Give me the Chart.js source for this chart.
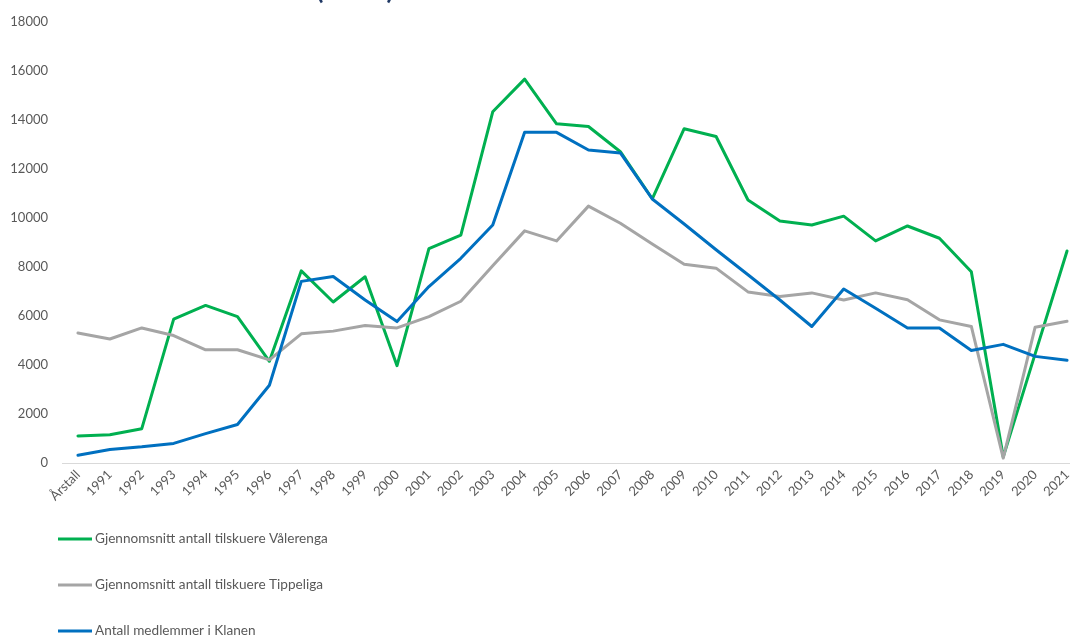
<!DOCTYPE html>
<html>
<head>
<meta charset="utf-8">
<script src="https://cdn.jsdelivr.net/npm/chart.js@4.4.0/dist/chart.umd.min.js"></script>
<style>
  html, body { margin: 0; padding: 0; background: #fff; overflow: hidden; }
  #wrap { width: 1070px; height: 636px; overflow: hidden; position: relative; }
  #box { width: 1090px; height: 636px; position: absolute; left: 0; top: 0; }
</style>
</head>
<body>
<div id="wrap"><div id="box"><canvas id="tilskuerChart"></canvas></div></div>
<script>
// x-axis labels
var years = ["Årstall", "1991", "1992", "1993", "1994", "1995", "1996", "1997", "1998", "1999", "2000",
  "2001", "2002", "2003", "2004", "2005", "2006", "2007", "2008", "2009", "2010",
  "2011", "2012", "2013", "2014", "2015", "2016", "2017", "2018", "2019", "2020", "2021"];

// snitt tilskuere Vålerenga
var valerenga = [1100, 1150, 1400, 5870, 6430, 5970, 4150, 7840, 6570, 7600, 3970,
  8750, 9300, 14330, 15660, 13840, 13730, 12700, 10780, 13640, 13320,
  10730, 9870, 9710, 10070, 9060, 9670, 9170, 7800, 250, 4450, 8650];

// snitt tilskuere Tippeliga
var tippeliga = [5300, 5060, 5510, 5200, 4620, 4620, 4210, 5270, 5380, 5610, 5510,
  5970, 6600, 8050, 9470, 9060, 10480, 9780, 8930, 8110, 7950,
  6980, 6790, 6940, 6650, 6940, 6660, 5840, 5570, 200, 5540, 5780];

// medlemmer i Klanen
var klanen = [320, 550, 660, 800, 1200, 1570, 3170, 7410, 7610, 6650, 5770,
  7200, 8350, 9710, 13490, 13490, 12770, 12650, 10770, 9750, 8700,
  7680, 6650, 5570, 7100, 6310, 5510, 5510, 4590, 4840, 4350, 4190];

var yTicks = [0, 2000, 4000, 6000, 8000, 10000, 12000, 14000, 16000, 18000];

var textGrey = "#595959";
var fontName = "Lato, 'Liberation Sans', sans-serif";

// legend drawn as a stacked list under the axis, plus the clipped title
var stackedLegend = {
  id: "stackedLegend",
  afterDraw: function(chart) {
    var ctx = chart.ctx;
    ctx.save();
    // title, only its lower edge shows
    ctx.font = "bold 26px " + fontName;
    ctx.fillStyle = "#1f3864";
    ctx.textAlign = "center";
    ctx.textBaseline = "alphabetic";
    ctx.fillText("(antall)", 355, -1);

    ctx.font = "13.6px " + fontName;
    ctx.textAlign = "left";
    ctx.textBaseline = "middle";
    chart.data.datasets.forEach(function(ds, i) {
      var y = 539 + i * 46;
      ctx.strokeStyle = ds.borderColor;
      ctx.lineWidth = 3;
      ctx.beginPath();
      ctx.moveTo(58, y);
      ctx.lineTo(92, y);
      ctx.stroke();
      ctx.fillStyle = textGrey;
      ctx.fillText(ds.label, 95, y);
    });
    ctx.restore();
  }
};

var ctxChart = document.getElementById("tilskuerChart");
var tilskuerChart = new Chart(ctxChart, {
  type: "line",
  data: {
    labels: years,
    datasets: [
      {
        label: "Gjennomsnitt antall tilskuere Vålerenga",
        data: valerenga,
        borderColor: "#00b050",
        order: 3
      },
      {
        label: "Gjennomsnitt antall tilskuere Tippeliga",
        data: tippeliga,
        borderColor: "#a5a5a5",
        order: 2
      },
      {
        label: "Antall medlemmer i Klanen",
        data: klanen,
        borderColor: "#0070c0",
        order: 1
      }
    ]
  },
  options: {
    responsive: true,
    maintainAspectRatio: false,
    animation: false,
    elements: {
      line: { borderWidth: 3, tension: 0, borderJoinStyle: "round", borderCapStyle: "round", fill: false },
      point: { radius: 0, hoverRadius: 0 }
    },
    layout: { padding: { top: 20, left: 0, right: 7, bottom: 121 } },
    plugins: {
      legend: { display: false },
      tooltip: { enabled: false },
      title: { display: false }
    },
    scales: {
      x: {
        offset: true,
        grid: { display: false, drawTicks: false },
        border: { display: true, color: "#d9d9d9", width: 1 },
        ticks: {
          autoSkip: false,
          minRotation: 45,
          maxRotation: 45,
          padding: 4,
          color: textGrey,
          font: { family: fontName, size: 13 }
        },
        afterFit: function(scale) { scale.height = 52; }
      },
      y: {
        min: 0,
        max: 18000,
        grid: { display: false, drawTicks: false },
        border: { display: false },
        afterBuildTicks: function(scale) {
          scale.ticks = yTicks.map(function(v) { return { value: v }; });
        },
        ticks: {
          padding: 14,
          color: textGrey,
          font: { family: fontName, size: 13 },
          callback: function(v) { return String(v); }
        },
        afterFit: function(scale) { scale.width = 62; }
      }
    }
  },
  plugins: [stackedLegend]
});
</script>
</body>
</html>
